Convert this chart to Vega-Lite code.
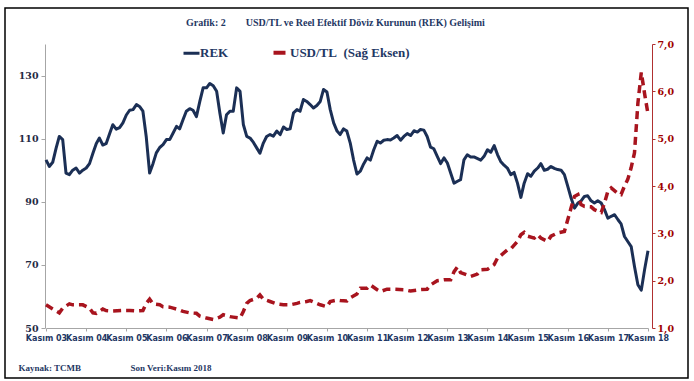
{
  "$schema": "https://vega.github.io/schema/vega-lite/v6.json",
  "autosize": {"type": "none"},
  "width": 683,
  "height": 370,
  "padding": {"left": 5, "top": 8, "right": 6, "bottom": 3},
  "background": "white",
  "config": {
    "view": {"stroke": "#000000", "strokeWidth": 1.5},
    "axis": {"grid": false}
  },
  "title": {
    "text": "Grafik: 2\u00a0\u00a0\u00a0\u00a0\u00a0\u00a0\u00a0\u00a0USD/TL ve Reel Efektif Döviz Kurunun (REK) Gelişimi",
    "anchor": "start",
    "frame": "group",
    "dx": 181,
    "offset": -25,
    "baseline": "middle",
    "font": "Liberation Serif",
    "fontSize": 10,
    "fontWeight": "bold",
    "color": "#1f3864"
  },
  "datasets": {
    "rek": [
      {"date": "2003-11-01", "rek": 103.3}, {"date": "2003-12-01", "rek": 101.2},
      {"date": "2004-01-01", "rek": 102.5}, {"date": "2004-02-01", "rek": 107.0},
      {"date": "2004-03-01", "rek": 110.7}, {"date": "2004-04-01", "rek": 109.7},
      {"date": "2004-05-01", "rek": 99.1}, {"date": "2004-06-01", "rek": 98.6},
      {"date": "2004-07-01", "rek": 100.0}, {"date": "2004-08-01", "rek": 100.7},
      {"date": "2004-09-01", "rek": 99.1}, {"date": "2004-10-01", "rek": 100.0},
      {"date": "2004-11-01", "rek": 100.7}, {"date": "2004-12-01", "rek": 102.1},
      {"date": "2005-01-01", "rek": 105.4}, {"date": "2005-02-01", "rek": 108.5},
      {"date": "2005-03-01", "rek": 110.2}, {"date": "2005-04-01", "rek": 108.0},
      {"date": "2005-05-01", "rek": 108.4}, {"date": "2005-06-01", "rek": 111.5},
      {"date": "2005-07-01", "rek": 114.4}, {"date": "2005-08-01", "rek": 113.0},
      {"date": "2005-09-01", "rek": 113.5}, {"date": "2005-10-01", "rek": 115.0},
      {"date": "2005-11-01", "rek": 117.5}, {"date": "2005-12-01", "rek": 119.0},
      {"date": "2006-01-01", "rek": 119.2}, {"date": "2006-02-01", "rek": 120.8},
      {"date": "2006-03-01", "rek": 120.2}, {"date": "2006-04-01", "rek": 118.7},
      {"date": "2006-05-01", "rek": 110.7}, {"date": "2006-06-01", "rek": 99.1},
      {"date": "2006-07-01", "rek": 102.0}, {"date": "2006-08-01", "rek": 105.5},
      {"date": "2006-09-01", "rek": 107.2}, {"date": "2006-10-01", "rek": 108.1},
      {"date": "2006-11-01", "rek": 109.7}, {"date": "2006-12-01", "rek": 109.7},
      {"date": "2007-01-01", "rek": 111.8}, {"date": "2007-02-01", "rek": 113.9},
      {"date": "2007-03-01", "rek": 113.1}, {"date": "2007-04-01", "rek": 116.0},
      {"date": "2007-05-01", "rek": 118.7}, {"date": "2007-06-01", "rek": 119.5},
      {"date": "2007-07-01", "rek": 119.0}, {"date": "2007-08-01", "rek": 117.0},
      {"date": "2007-09-01", "rek": 121.8}, {"date": "2007-10-01", "rek": 126.1},
      {"date": "2007-11-01", "rek": 126.1}, {"date": "2007-12-01", "rek": 127.5},
      {"date": "2008-01-01", "rek": 126.8}, {"date": "2008-02-01", "rek": 125.0},
      {"date": "2008-03-01", "rek": 118.2}, {"date": "2008-04-01", "rek": 111.8},
      {"date": "2008-05-01", "rek": 117.6}, {"date": "2008-06-01", "rek": 118.7},
      {"date": "2008-07-01", "rek": 118.7}, {"date": "2008-08-01", "rek": 126.1},
      {"date": "2008-09-01", "rek": 125.0}, {"date": "2008-10-01", "rek": 114.5},
      {"date": "2008-11-01", "rek": 110.7}, {"date": "2008-12-01", "rek": 110.2},
      {"date": "2009-01-01", "rek": 108.8}, {"date": "2009-02-01", "rek": 107.0},
      {"date": "2009-03-01", "rek": 105.4}, {"date": "2009-04-01", "rek": 108.6},
      {"date": "2009-05-01", "rek": 110.7}, {"date": "2009-06-01", "rek": 111.3},
      {"date": "2009-07-01", "rek": 110.8}, {"date": "2009-08-01", "rek": 112.4},
      {"date": "2009-09-01", "rek": 111.3}, {"date": "2009-10-01", "rek": 113.7},
      {"date": "2009-11-01", "rek": 112.9}, {"date": "2009-12-01", "rek": 113.1},
      {"date": "2010-01-01", "rek": 118.2}, {"date": "2010-02-01", "rek": 119.2},
      {"date": "2010-03-01", "rek": 118.7}, {"date": "2010-04-01", "rek": 122.4},
      {"date": "2010-05-01", "rek": 121.8}, {"date": "2010-06-01", "rek": 120.8},
      {"date": "2010-07-01", "rek": 119.7}, {"date": "2010-08-01", "rek": 120.5},
      {"date": "2010-09-01", "rek": 121.8}, {"date": "2010-10-01", "rek": 125.6},
      {"date": "2010-11-01", "rek": 124.8}, {"date": "2010-12-01", "rek": 119.2},
      {"date": "2011-01-01", "rek": 115.0}, {"date": "2011-02-01", "rek": 112.4},
      {"date": "2011-03-01", "rek": 111.3}, {"date": "2011-04-01", "rek": 113.1},
      {"date": "2011-05-01", "rek": 112.4}, {"date": "2011-06-01", "rek": 108.6},
      {"date": "2011-07-01", "rek": 103.3}, {"date": "2011-08-01", "rek": 98.8},
      {"date": "2011-09-01", "rek": 99.7}, {"date": "2011-10-01", "rek": 102.0},
      {"date": "2011-11-01", "rek": 103.9}, {"date": "2011-12-01", "rek": 103.2},
      {"date": "2012-01-01", "rek": 106.5}, {"date": "2012-02-01", "rek": 109.2},
      {"date": "2012-03-01", "rek": 108.6}, {"date": "2012-04-01", "rek": 109.5},
      {"date": "2012-05-01", "rek": 109.7}, {"date": "2012-06-01", "rek": 109.6},
      {"date": "2012-07-01", "rek": 110.2}, {"date": "2012-08-01", "rek": 111.0},
      {"date": "2012-09-01", "rek": 109.5}, {"date": "2012-10-01", "rek": 110.7},
      {"date": "2012-11-01", "rek": 111.6}, {"date": "2012-12-01", "rek": 111.0},
      {"date": "2013-01-01", "rek": 112.5}, {"date": "2013-02-01", "rek": 112.1},
      {"date": "2013-03-01", "rek": 112.9}, {"date": "2013-04-01", "rek": 112.7},
      {"date": "2013-05-01", "rek": 110.7}, {"date": "2013-06-01", "rek": 107.3},
      {"date": "2013-07-01", "rek": 106.8}, {"date": "2013-08-01", "rek": 104.4},
      {"date": "2013-09-01", "rek": 102.1}, {"date": "2013-10-01", "rek": 103.9},
      {"date": "2013-11-01", "rek": 102.3}, {"date": "2013-12-01", "rek": 99.1},
      {"date": "2014-01-01", "rek": 95.9}, {"date": "2014-02-01", "rek": 96.5},
      {"date": "2014-03-01", "rek": 97.0}, {"date": "2014-04-01", "rek": 103.3},
      {"date": "2014-05-01", "rek": 104.9}, {"date": "2014-06-01", "rek": 104.2},
      {"date": "2014-07-01", "rek": 104.2}, {"date": "2014-09-01", "rek": 103.2},
      {"date": "2014-10-01", "rek": 104.4}, {"date": "2014-11-01", "rek": 106.5},
      {"date": "2014-12-01", "rek": 105.7}, {"date": "2015-01-01", "rek": 107.8},
      {"date": "2015-02-01", "rek": 104.9}, {"date": "2015-03-01", "rek": 102.8},
      {"date": "2015-04-01", "rek": 101.6}, {"date": "2015-05-01", "rek": 100.7},
      {"date": "2015-06-01", "rek": 98.6}, {"date": "2015-07-01", "rek": 99.3},
      {"date": "2015-08-01", "rek": 95.9}, {"date": "2015-09-01", "rek": 91.4},
      {"date": "2015-10-01", "rek": 95.9}, {"date": "2015-11-01", "rek": 98.9},
      {"date": "2015-12-01", "rek": 98.1}, {"date": "2016-01-01", "rek": 99.7},
      {"date": "2016-02-01", "rek": 100.7}, {"date": "2016-03-01", "rek": 102.1},
      {"date": "2016-04-01", "rek": 100.0}, {"date": "2016-05-01", "rek": 100.3},
      {"date": "2016-06-01", "rek": 101.2}, {"date": "2016-07-01", "rek": 100.6},
      {"date": "2016-08-01", "rek": 100.2}, {"date": "2016-09-01", "rek": 100.0},
      {"date": "2016-10-01", "rek": 98.6}, {"date": "2016-11-01", "rek": 94.9},
      {"date": "2016-12-01", "rek": 91.2}, {"date": "2017-01-01", "rek": 88.0},
      {"date": "2017-02-01", "rek": 89.6}, {"date": "2017-03-01", "rek": 90.2},
      {"date": "2017-04-01", "rek": 91.7}, {"date": "2017-05-01", "rek": 91.9},
      {"date": "2017-06-01", "rek": 90.3}, {"date": "2017-07-01", "rek": 89.6},
      {"date": "2017-08-01", "rek": 90.3}, {"date": "2017-09-01", "rek": 89.6},
      {"date": "2017-10-01", "rek": 87.5}, {"date": "2017-11-01", "rek": 84.8},
      {"date": "2017-12-01", "rek": 85.4}, {"date": "2018-01-01", "rek": 85.9},
      {"date": "2018-02-01", "rek": 84.3}, {"date": "2018-03-01", "rek": 83.0},
      {"date": "2018-04-01", "rek": 79.0}, {"date": "2018-05-01", "rek": 77.4},
      {"date": "2018-06-01", "rek": 75.8}, {"date": "2018-07-01", "rek": 69.5},
      {"date": "2018-08-01", "rek": 63.7}, {"date": "2018-09-01", "rek": 62.0},
      {"date": "2018-10-01", "rek": 68.5}, {"date": "2018-11-01", "rek": 74.5}
    ],
    "usd": [
      {"date": "2003-11-01", "usd": 1.49}, {"date": "2004-01-01", "usd": 1.40},
      {"date": "2004-03-01", "usd": 1.32}, {"date": "2004-04-01", "usd": 1.42},
      {"date": "2004-06-01", "usd": 1.51}, {"date": "2004-07-01", "usd": 1.49},
      {"date": "2004-09-01", "usd": 1.49}, {"date": "2004-10-01", "usd": 1.49},
      {"date": "2004-12-01", "usd": 1.42}, {"date": "2005-01-01", "usd": 1.32},
      {"date": "2005-02-01", "usd": 1.31}, {"date": "2005-04-01", "usd": 1.40},
      {"date": "2005-05-01", "usd": 1.37}, {"date": "2005-07-01", "usd": 1.36},
      {"date": "2005-10-01", "usd": 1.37}, {"date": "2005-12-01", "usd": 1.37},
      {"date": "2006-02-01", "usd": 1.36}, {"date": "2006-04-01", "usd": 1.37},
      {"date": "2006-05-01", "usd": 1.52}, {"date": "2006-06-01", "usd": 1.61},
      {"date": "2006-07-01", "usd": 1.51}, {"date": "2006-09-01", "usd": 1.49},
      {"date": "2006-10-01", "usd": 1.45}, {"date": "2006-12-01", "usd": 1.44},
      {"date": "2007-01-01", "usd": 1.42}, {"date": "2007-03-01", "usd": 1.38},
      {"date": "2007-04-01", "usd": 1.35}, {"date": "2007-06-01", "usd": 1.32},
      {"date": "2007-08-01", "usd": 1.31}, {"date": "2007-09-01", "usd": 1.25},
      {"date": "2007-11-01", "usd": 1.21}, {"date": "2008-01-01", "usd": 1.18},
      {"date": "2008-03-01", "usd": 1.23}, {"date": "2008-04-01", "usd": 1.28},
      {"date": "2008-06-01", "usd": 1.24}, {"date": "2008-07-01", "usd": 1.23},
      {"date": "2008-09-01", "usd": 1.21}, {"date": "2008-10-01", "usd": 1.35},
      {"date": "2008-11-01", "usd": 1.52}, {"date": "2008-12-01", "usd": 1.58},
      {"date": "2009-02-01", "usd": 1.63}, {"date": "2009-03-01", "usd": 1.70},
      {"date": "2009-04-01", "usd": 1.61}, {"date": "2009-06-01", "usd": 1.56},
      {"date": "2009-08-01", "usd": 1.51}, {"date": "2009-10-01", "usd": 1.49},
      {"date": "2009-12-01", "usd": 1.49}, {"date": "2010-02-01", "usd": 1.52},
      {"date": "2010-03-01", "usd": 1.54}, {"date": "2010-05-01", "usd": 1.56},
      {"date": "2010-06-01", "usd": 1.58}, {"date": "2010-08-01", "usd": 1.52},
      {"date": "2010-09-01", "usd": 1.49}, {"date": "2010-11-01", "usd": 1.45},
      {"date": "2010-12-01", "usd": 1.56}, {"date": "2011-02-01", "usd": 1.59},
      {"date": "2011-03-01", "usd": 1.58}, {"date": "2011-05-01", "usd": 1.57},
      {"date": "2011-06-01", "usd": 1.64}, {"date": "2011-08-01", "usd": 1.72},
      {"date": "2011-09-01", "usd": 1.84}, {"date": "2011-11-01", "usd": 1.84},
      {"date": "2011-12-01", "usd": 1.91}, {"date": "2012-02-01", "usd": 1.81},
      {"date": "2012-03-01", "usd": 1.77}, {"date": "2012-05-01", "usd": 1.82},
      {"date": "2012-07-01", "usd": 1.82}, {"date": "2012-10-01", "usd": 1.81},
      {"date": "2012-12-01", "usd": 1.78}, {"date": "2013-03-01", "usd": 1.81},
      {"date": "2013-05-01", "usd": 1.82}, {"date": "2013-06-01", "usd": 1.91},
      {"date": "2013-08-01", "usd": 2.00}, {"date": "2013-10-01", "usd": 2.02},
      {"date": "2013-12-01", "usd": 2.02}, {"date": "2014-01-01", "usd": 2.19},
      {"date": "2014-02-01", "usd": 2.29}, {"date": "2014-03-01", "usd": 2.17},
      {"date": "2014-05-01", "usd": 2.12}, {"date": "2014-06-01", "usd": 2.09},
      {"date": "2014-08-01", "usd": 2.14}, {"date": "2014-09-01", "usd": 2.23},
      {"date": "2014-11-01", "usd": 2.24}, {"date": "2015-01-01", "usd": 2.34},
      {"date": "2015-02-01", "usd": 2.48}, {"date": "2015-03-01", "usd": 2.53},
      {"date": "2015-05-01", "usd": 2.65}, {"date": "2015-06-01", "usd": 2.67},
      {"date": "2015-08-01", "usd": 2.83}, {"date": "2015-09-01", "usd": 2.97},
      {"date": "2015-10-01", "usd": 3.02}, {"date": "2015-11-01", "usd": 2.94},
      {"date": "2016-01-01", "usd": 2.90}, {"date": "2016-02-01", "usd": 2.97},
      {"date": "2016-03-01", "usd": 2.90}, {"date": "2016-05-01", "usd": 2.83},
      {"date": "2016-06-01", "usd": 2.94}, {"date": "2016-08-01", "usd": 3.01},
      {"date": "2016-10-01", "usd": 3.04}, {"date": "2016-11-01", "usd": 3.29},
      {"date": "2016-12-01", "usd": 3.54}, {"date": "2017-01-01", "usd": 3.78},
      {"date": "2017-02-01", "usd": 3.82}, {"date": "2017-03-01", "usd": 3.61},
      {"date": "2017-04-01", "usd": 3.57}, {"date": "2017-06-01", "usd": 3.56},
      {"date": "2017-07-01", "usd": 3.50}, {"date": "2017-09-01", "usd": 3.44},
      {"date": "2017-10-01", "usd": 3.64}, {"date": "2017-11-01", "usd": 3.89},
      {"date": "2017-12-01", "usd": 3.96}, {"date": "2018-02-01", "usd": 3.84},
      {"date": "2018-03-01", "usd": 3.82}, {"date": "2018-04-01", "usd": 4.00},
      {"date": "2018-05-01", "usd": 4.14}, {"date": "2018-06-01", "usd": 4.39},
      {"date": "2018-07-01", "usd": 4.70}, {"date": "2018-08-01", "usd": 5.75},
      {"date": "2018-09-01", "usd": 6.40}, {"date": "2018-10-01", "usd": 5.95},
      {"date": "2018-11-01", "usd": 5.52}
    ]
  },
  "layer": [
    {
      "data": {"name": "rek"},
      "mark": {"type": "line", "strokeWidth": 3, "strokeJoin": "round", "clip": false},
      "encoding": {
        "x": {
          "field": "date",
          "type": "temporal",
          "scale": {
            "type": "utc",
            "domain": ["2003-11-01", "2018-11-01"],
            "range": [41, 643]
          },
          "axis": {
            "orient": "bottom",
            "offset": -50,
            "values": [
              {"year": 2003, "month": 11, "date": 1, "utc": true},
              {"year": 2004, "month": 11, "date": 1, "utc": true},
              {"year": 2005, "month": 11, "date": 1, "utc": true},
              {"year": 2006, "month": 11, "date": 1, "utc": true},
              {"year": 2007, "month": 11, "date": 1, "utc": true},
              {"year": 2008, "month": 11, "date": 1, "utc": true},
              {"year": 2009, "month": 11, "date": 1, "utc": true},
              {"year": 2010, "month": 11, "date": 1, "utc": true},
              {"year": 2011, "month": 11, "date": 1, "utc": true},
              {"year": 2012, "month": 11, "date": 1, "utc": true},
              {"year": 2013, "month": 11, "date": 1, "utc": true},
              {"year": 2014, "month": 11, "date": 1, "utc": true},
              {"year": 2015, "month": 11, "date": 1, "utc": true},
              {"year": 2016, "month": 11, "date": 1, "utc": true},
              {"year": 2017, "month": 11, "date": 1, "utc": true},
              {"year": 2018, "month": 11, "date": 1, "utc": true}
            ],
            "labelExpr": "'Kasım ' + utcFormat(datum.value, '%y')",
            "labelFont": "DejaVu Sans",
            "labelFontSize": 8,
            "labelFontWeight": "bold",
            "labelColor": "#1f3864",
            "labelPadding": 3,
            "labelOverlap": false,
            "labelFlush": false,
            "domainColor": "#a6a6a6",
            "tickColor": "#a6a6a6",
            "tickSize": 3,
            "title": "Kaynak: TCMB",
            "titleX": 13,
            "titleY": 39,
            "titleAlign": "left",
            "titleBaseline": "middle",
            "titleFont": "Liberation Serif",
            "titleFontSize": 9,
            "titleFontWeight": "bold",
            "titleColor": "#1f3864"
          }
        },
        "y": {
          "field": "rek",
          "type": "quantitative",
          "scale": {"domain": [50, 140], "range": [320, 36], "zero": false, "nice": false},
          "axis": {
            "orient": "left",
            "offset": -40,
            "values": [50, 70, 90, 110, 130],
            "labelFont": "DejaVu Serif",
            "labelFontSize": 9.5,
            "labelFontWeight": "bold",
            "labelColor": "#1f2a44",
            "labelPadding": 3,
            "domainColor": "#a6a6a6",
            "tickColor": "#a6a6a6",
            "tickSize": 4,
            "title": null
          }
        },
        "color": {
          "datum": "REK",
          "type": "nominal",
          "scale": {
            "domain": ["REK", "USD/TL\u00a0 (Sağ Eksen)"],
            "range": ["#1b2f55", "#a8141e"]
          },
          "legend": {
            "orient": "none",
            "legendX": 180,
            "legendY": 38,
            "direction": "horizontal",
            "title": null,
            "padding": 0,
            "symbolType": "stroke",
            "symbolSize": 256,
            "symbolStrokeWidth": 3,
            "labelFont": "Liberation Serif",
            "labelFontSize": 13,
            "labelFontWeight": "bold",
            "labelColor": "#1f3864",
            "labelOffset": 2,
            "columnPadding": 36,
            "encode": {
              "symbols": {
                "update": {
                  "strokeDash": {"signal": "datum.value === 'REK' ? [1, 0] : [12, 20]"},
                  "strokeWidth": {"signal": "datum.value === 'REK' ? 3 : 4"}
                }
              }
            }
          }
        }
      }
    },
    {
      "data": {"name": "usd"},
      "mark": {"type": "line", "strokeWidth": 3.5, "strokeDash": [8, 5], "clip": false},
      "encoding": {
        "x": {"field": "date", "type": "temporal"},
        "y": {
          "field": "usd",
          "type": "quantitative",
          "scale": {"domain": [1, 7], "range": [320, 36], "zero": false, "nice": false},
          "axis": {
            "orient": "right",
            "offset": -36,
            "values": [1, 2, 3, 4, 5, 6, 7],
            "labelExpr": "replace(format(datum.value, '.1f'), '.', ',')",
            "labelFont": "DejaVu Serif",
            "labelFontSize": 9.5,
            "labelFontWeight": "bold",
            "labelColor": "#a00000",
            "labelPadding": 2,
            "domainColor": "#b03030",
            "tickColor": "#b03030",
            "tickSize": 3,
            "title": "Son Veri:Kasım 2018",
            "titleAngle": 0,
            "titleX": -522,
            "titleY": 359,
            "titleAlign": "left",
            "titleBaseline": "middle",
            "titleFont": "Liberation Serif",
            "titleFontSize": 9,
            "titleFontWeight": "bold",
            "titleColor": "#1f3864"
          }
        },
        "color": {"datum": "USD/TL\u00a0 (Sağ Eksen)", "type": "nominal"}
      }
    }
  ],
  "resolve": {"scale": {"y": "independent"}}
}
